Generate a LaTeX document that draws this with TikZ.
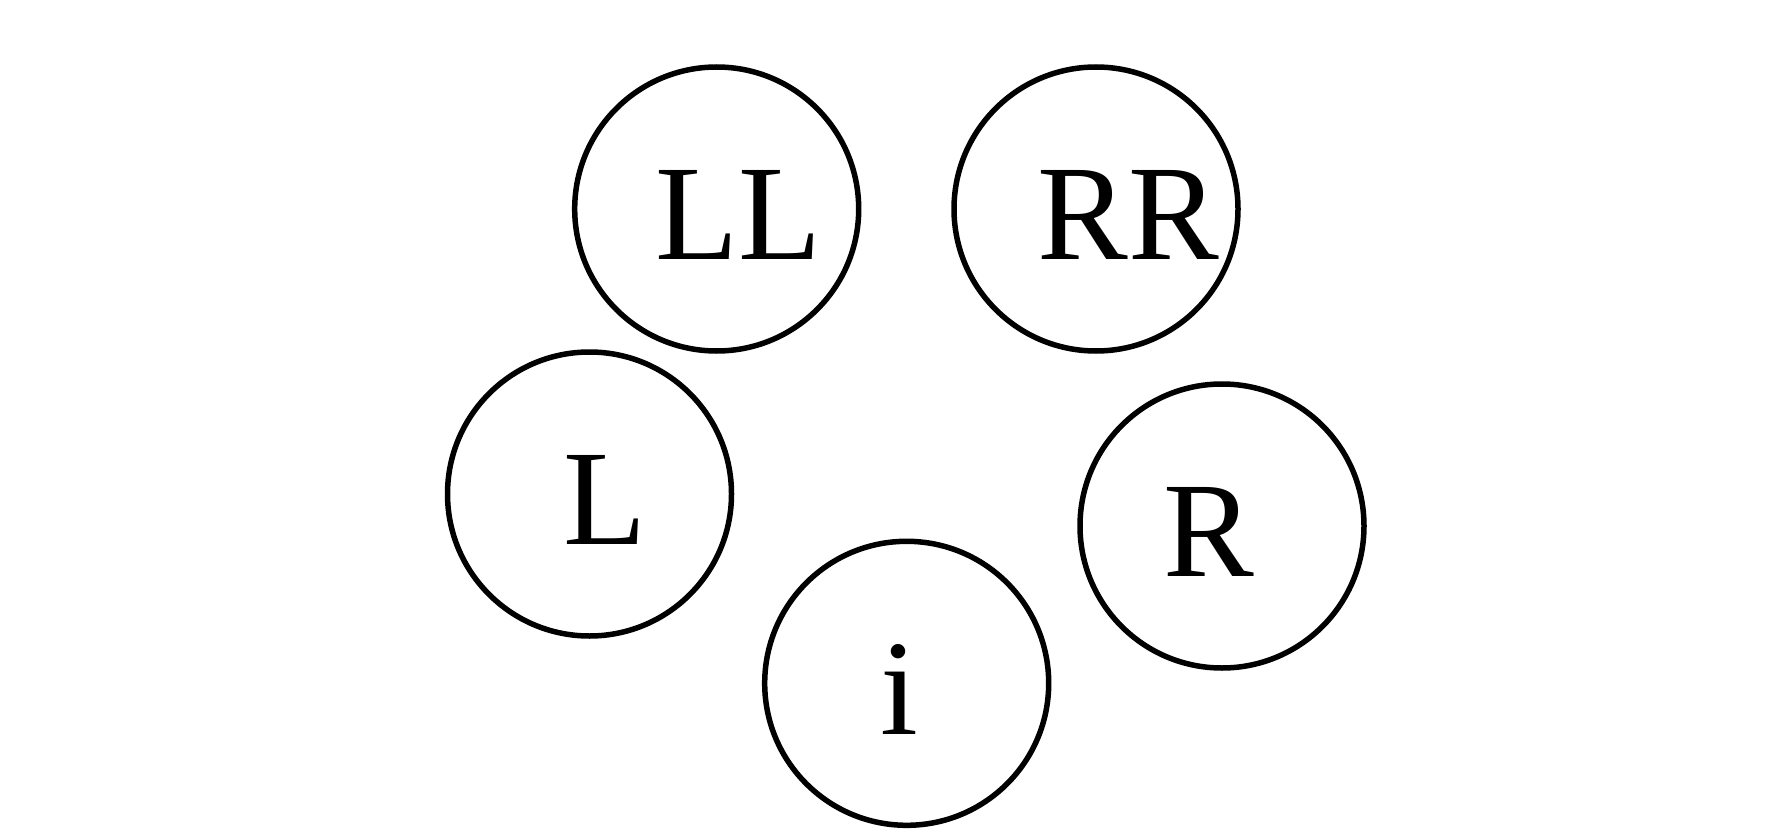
\documentclass[tikz,border=0pt]{standalone}
\usepackage{fontspec}
\setmainfont{Liberation Serif}
\begin{document}
\begin{tikzpicture}[x=1pt,y=-1pt,
  ring/.style={circle,draw=black,line width=5.5pt,minimum size=284pt,inner sep=0pt},
  letter/.style={anchor=base,inner sep=0pt,font=\fontsize{136}{160}\selectfont}]
\useasboundingbox (0,0) rectangle (1770,840);
\node[ring] (cLL) at (716.7,209) {};
\node[ring] (cRR) at (1096,209) {};
\node[ring] (cL) at (589.5,494) {};
\node[ring] (cR) at (1222,526) {};
\node[ring] (ci) at (906.7,683.3) {};
\node[letter] (tLL) at (738.5,259) {LL};
\node[letter] (tRR) at (1128,259) {RR};
\node[letter] (tL) at (605,544) {L};
\node[letter] (tR) at (1209,576) {R};
\node[letter] (ti) at (899,734) {i};
\end{tikzpicture}
\end{document}
